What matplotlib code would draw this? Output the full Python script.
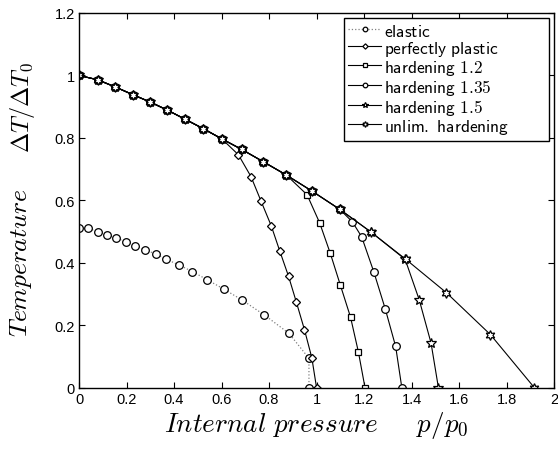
import numpy as np
import matplotlib
matplotlib.use('Agg')
from matplotlib import pyplot as plt

plt.rcParams['mathtext.fontset'] = 'cm'
plt.rcParams['font.family'] = ['Liberation Sans', 'DejaVu Sans']

elastic_x = [0.0, 0.039, 0.079, 0.118, 0.157, 0.196, 0.236, 0.278, 0.323, 0.368,
             0.421, 0.477, 0.539, 0.609, 0.688, 0.780, 0.884, 0.968, 0.968]
elastic_y = [0.511, 0.510, 0.500, 0.490, 0.479, 0.468, 0.455, 0.442, 0.428, 0.411,
             0.393, 0.372, 0.346, 0.316, 0.280, 0.233, 0.174, 0.094, 0.0]

plastic_x = [0.0, 0.079, 0.153, 0.228, 0.299, 0.372, 0.446, 0.522, 0.601,
             0.671, 0.724, 0.766, 0.809, 0.845, 0.882, 0.915, 0.949, 0.980, 1.0]
plastic_y = [1.0, 0.986, 0.963, 0.938, 0.915, 0.889, 0.860, 0.830, 0.797,
             0.746, 0.676, 0.598, 0.519, 0.438, 0.357, 0.274, 0.186, 0.096, 0.0]

hard12_x = [0.0, 0.079, 0.153, 0.228, 0.299, 0.372, 0.446, 0.522, 0.601, 0.685, 0.775, 0.873,
            0.960, 1.013, 1.058, 1.100, 1.143, 1.176, 1.204]
hard12_y = [1.0, 0.986, 0.963, 0.938, 0.915, 0.889, 0.860, 0.830, 0.797, 0.763, 0.724, 0.681,
            0.618, 0.528, 0.430, 0.329, 0.226, 0.115, 0.0]

hard135_x = [0.0, 0.079, 0.153, 0.228, 0.299, 0.372, 0.446, 0.522, 0.601, 0.685, 0.775, 0.873,
             0.980, 1.098, 1.151, 1.190, 1.241, 1.289, 1.333, 1.359]
hard135_y = [1.0, 0.986, 0.963, 0.938, 0.915, 0.889, 0.860, 0.830, 0.797, 0.763, 0.724, 0.681,
             0.630, 0.571, 0.531, 0.483, 0.371, 0.253, 0.132, 0.0]

hard15_x = [0.0, 0.079, 0.153, 0.228, 0.299, 0.372, 0.446, 0.522, 0.601, 0.685, 0.775, 0.873,
            0.980, 1.098, 1.230, 1.373, 1.432, 1.482, 1.513]
hard15_y = [1.0, 0.986, 0.963, 0.938, 0.915, 0.889, 0.860, 0.830, 0.797, 0.763, 0.724, 0.681,
            0.630, 0.571, 0.498, 0.411, 0.282, 0.143, 0.0]

unlim_x = [0.0, 0.079, 0.153, 0.228, 0.299, 0.372, 0.446, 0.522, 0.601, 0.685, 0.775, 0.873,
           0.980, 1.098, 1.230, 1.376, 1.547, 1.732, 1.917]
unlim_y = [1.0, 0.986, 0.963, 0.938, 0.915, 0.889, 0.860, 0.830, 0.797, 0.763, 0.724, 0.681,
           0.630, 0.571, 0.498, 0.411, 0.304, 0.170, 0.0]

labels = ['elastic', 'perfectly plastic', 'hardening 1.2', 'hardening 1.35',
          'hardening 1.5', 'unlim. hardening']


def sf(s):
    return r'$\mathsf{' + s.replace(' ', r'\ ') + '}$'


fig = plt.figure(figsize=(5.58, 4.56), dpi=100)
ax = fig.add_axes([0.1416, 0.1476, 0.8514, 0.8217])

kw = dict(color='black', lw=0.8, mfc='white', mec='black', mew=0.9)
ax.plot(elastic_x, elastic_y, ':', marker='o', ms=5.5, label=sf(labels[0]),
        color='gray', lw=0.9, mfc='white', mec='black', mew=0.9)
ax.plot(plastic_x, plastic_y, '-', marker='D', ms=4.5, label=sf(labels[1]), **kw)
ax.plot(hard12_x, hard12_y, '-', marker='s', ms=4.5, label=sf(labels[2]), **kw)
ax.plot(hard135_x, hard135_y, '-', marker='o', ms=5.5, label=sf(labels[3]), **kw)
ax.plot(hard15_x, hard15_y, '-', marker='*', ms=7, label=sf(labels[4]), **kw)
ax.plot(unlim_x, unlim_y, '-', marker=(6, 1, 0), ms=7, label=sf(labels[5]), **kw)

ax.set_xlim(0, 2)
ax.set_ylim(0, 1.2)
ax.set_xticks(np.arange(0, 2.01, 0.2))
ax.set_yticks(np.arange(0, 1.21, 0.2))
ax.set_xticklabels(['0', '0.2', '0.4', '0.6', '0.8', '1', '1.2', '1.4', '1.6', '1.8', '2'])
ax.set_yticklabels(['0', '0.2', '0.4', '0.6', '0.8', '1', '1.2'])
ax.tick_params(direction='in', top=True, right=True, labelsize=10.5, length=4, pad=3)
for s in ax.spines.values():
    s.set_linewidth(1.0)

ax.set_xlabel(r'$Internal\ pressure\quad\ \ p/p_0$', fontsize=19.5, labelpad=2)
# y label drawn in two pieces, as in the original
fig.text(0.038, 0.424, r'$Temperature$', rotation=90, fontsize=18.5,
         ha='center', va='center')
fig.text(0.041, 0.765, r'$\Delta T/\Delta T_0$', rotation=90, fontsize=17.5,
         ha='center', va='center')

leg = ax.legend(loc='upper right', bbox_to_anchor=(0.558, 0.0, 0.431, 0.986),
                mode='expand', borderaxespad=0.0, fontsize=12.5, fancybox=False,
                edgecolor='black', framealpha=1, handlelength=1.9, handleheight=1.0,
                handletextpad=0.15, labelspacing=0.0, borderpad=0.25, markerscale=0.6)
leg.get_frame().set_linewidth(1.0)

fig.savefig('out.png', dpi=100)
